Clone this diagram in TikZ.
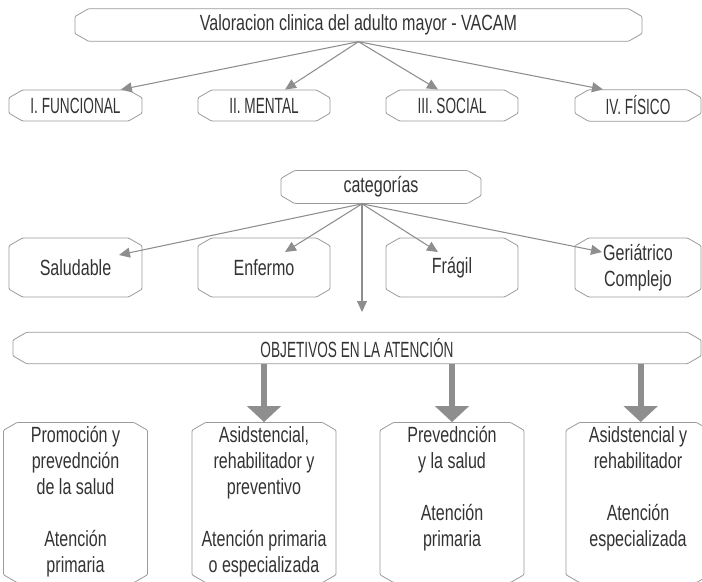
\documentclass[tikz,border=0pt]{standalone}
\usepackage{fontspec}
\setmainfont{Liberation Sans}[FakeStretch=0.73]
\newfontfamily\capsfont{Liberation Sans}[FakeStretch=0.62]
\usetikzlibrary{arrows.meta,shapes.misc}
\definecolor{boxgray}{HTML}{9A9A9A}
\definecolor{arrgray}{HTML}{8E8E8E}
\definecolor{txtgray}{HTML}{333333}
\def\tallbox#1{\parbox[c][111pt][t]{98pt}{\centering\vspace*{-3.7pt}\leavevmode\vphantom{Ó}#1}}

\begin{document}
\begin{tikzpicture}[x=0.75pt,y=0.75pt,yscale=-1,xscale=1,
	box/.style={draw=boxgray, line width=0.6pt, chamfered rectangle, chamfered rectangle xsep=4pt, chamfered rectangle angle=60, rounded corners=0.8pt, inner sep=1pt, text=txtgray, font=\fontsize{16.5}{19.5}\selectfont, align=center},
	thin arr/.style={draw=arrgray, line width=0.8pt, -{Triangle[length=8.25pt,width=7.5pt]}},
	fat arr/.style={draw=arrgray, line width=4.5pt, -{Triangle[length=12pt,width=25pt]}}]
		\useasboundingbox (0,0) rectangle (702,581);
		% header and the four parts
		\node [box, minimum width=425.25pt, minimum height=24pt] (vacam) at (358.5,25) {Valoracion clinica del adulto mayor - VACAM};
		\node [box, minimum width=99.75pt, minimum height=23.25pt] (fun) at (75.5,105.5) {\capsfont I. FUNCIONAL};
		\node [box, minimum width=99pt, minimum height=23.25pt] (men) at (264,105.5) {\capsfont II. MENTAL};
		\node [box, minimum width=99pt, minimum height=23.25pt] (soc) at (452,105.5) {\capsfont III. SOCIAL};
		\node [box, minimum width=94.5pt, minimum height=23.25pt] (fis) at (638,105.5) {\capsfont IV. FÍSICO};
		\draw [thin arr] (vacam.south) -- ([xshift=34pt]fun.north);
		\draw [thin arr] (vacam.south) -- ([xshift=15.75pt]men.north);
		\draw [thin arr] (vacam.south) -- ([xshift=-10.5pt]soc.north);
		\draw [thin arr] (vacam.south) -- ([xshift=-26.25pt]fis.north);
		% categories
		\node [box, minimum width=150pt, minimum height=22.5pt] (cat) at (381,187) {categorías};
		\coordinate (catsrc) at ([xshift=-14.25pt]cat.south);
		\node [box, minimum width=99.75pt, minimum height=44.25pt] (sal) at (75.5,267.5) {Saludable};
		\node [box, minimum width=99pt, minimum height=44.25pt] (enf) at (264,267.5) {Enfermo};
		\node [box, minimum width=99pt, minimum height=44.25pt] (fra) at (452,267.5) {Frágil};
		\node [box, minimum width=94.5pt, minimum height=44.25pt] (ger) at (638,267.5) {Geriátrico\\Complejo};
		\coordinate (catend) at (362,312);
		\draw [thin arr] (catsrc) -- ([xshift=32.6pt,yshift=-9.4pt]sal.center);
		\draw [thin arr] (catsrc) -- ([xshift=15.75pt,yshift=-11.6pt]enf.center);
		\draw [thin arr] (catsrc) -- ([xshift=-10.5pt,yshift=-11.6pt]fra.center);
		\draw [thin arr] (catsrc) -- ([xshift=-27pt,yshift=-11.6pt]ger.center);
		\draw [thin arr] (catsrc) -- (catend);
		% objectives
		\node [box, minimum width=516pt, minimum height=22.5pt] (obj) at (357,348) {\capsfont OBJETIVOS EN LA ATENCIÓN};
		\node [box, minimum width=99.75pt, minimum height=116.25pt] (promo) at (75.5,502.5) {\tallbox{Promoción y\\prevednción\\de la salud\\[19.5pt]Atención\\primaria}};
		\node [box, minimum width=99pt, minimum height=116.25pt] (asis) at (264,502.5) {\tallbox{Asidstencial,\\rehabilitador y\\preventivo\\[19.5pt]Atención primaria\\o especializada}};
		\node [box, minimum width=99pt, minimum height=116.25pt] (prev) at (452,502.5) {\tallbox{Prevednción\\y la salud\\[19.5pt]Atención\\primaria}};
		\node [box, minimum width=94.5pt, minimum height=116.25pt] (rehab) at (638,502.5) {\tallbox{Asidstencial y\\rehabilitador\\[19.5pt]Atención\\especializada}};
		\draw [fat arr] (asis.north |- obj.south) -- (asis.north);
		\draw [fat arr] (prev.north |- obj.south) -- (prev.north);
		\draw [fat arr] ([xshift=2pt]rehab.north |- obj.south) -- ([xshift=2pt]rehab.north);
		\end{tikzpicture}
\end{document}
